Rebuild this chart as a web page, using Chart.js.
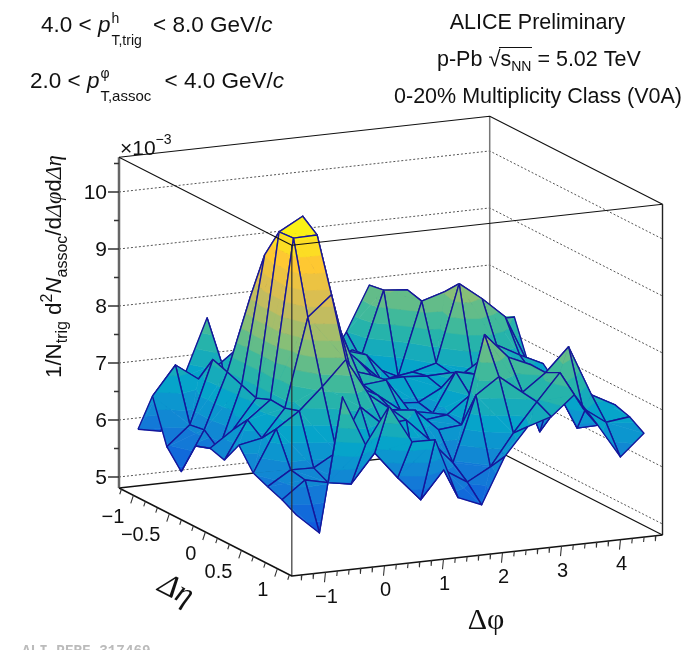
<!DOCTYPE html>
<html>
<head>
<meta charset="utf-8">
<title>ALICE Preliminary</title>
<script src="https://cdn.jsdelivr.net/npm/chart.js@4"></script>
<style>
    body { margin: 0; background: #fff; }
    canvas { display: block; }
</style>
</head>
<body>
<canvas id="surfaceChart" width="693" height="650"></canvas>
<script>
// Bin centres of the surface
const etaBins = [-1.1, -0.9, -0.7, -0.5, -0.3, -0.1, 0.1, 0.3, 0.5, 0.7, 0.9, 1.1];
const phiBins = [-1.37, -0.98, -0.59, -0.2, 0.2, 0.59, 0.98, 1.37, 1.77, 2.16, 2.55, 2.95, 3.34, 3.73, 4.12, 4.52];

// Yield x 10^3, one list per eta bin
const zEta0 = [5.88, 5.80, 6.72, 7.70, 6.21, 6.17, 6.30, 6.43, 6.56, 7.18, 7.96, 7.13, 7.09, 6.86, 6.65, 6.42];
const zEta1 = [6.59, 7.09, 6.80, 7.05, 7.36, 7.00, 6.78, 6.73, 6.78, 6.85, 8.00, 7.96, 7.21, 7.34, 7.12, 6.90];
const zEta2 = [5.83, 6.17, 7.27, 5.94, 7.00, 7.65, 7.26, 6.95, 7.17, 6.81, 6.61, 7.89, 8.01, 7.82, 7.43, 7.43];
const zEta3 = [5.52, 6.21, 7.18, 8.45, 8.71, 8.31, 7.74, 7.34, 7.21, 6.76, 6.82, 6.93, 8.28, 7.97, 7.61, 6.72];
const zEta4 = [6.10, 5.99, 7.08, 9.32, 9.36, 8.79, 7.69, 7.30, 6.90, 6.91, 6.88, 6.89, 6.81, 7.29, 7.07, 6.87];
const zEta5 = [6.19, 6.47, 6.98, 9.85, 10.08, 8.04, 7.29, 7.16, 6.62, 6.59, 6.80, 7.03, 7.29, 7.07, 6.85, 6.63];
const zEta6 = [6.11, 6.77, 7.08, 9.87, 9.88, 8.17, 7.16, 7.20, 6.61, 6.53, 7.21, 7.11, 7.15, 7.02, 6.80, 6.49];
const zEta7 = [6.50, 6.58, 7.06, 8.61, 8.96, 7.33, 7.11, 6.80, 6.58, 6.63, 6.93, 7.68, 7.19, 6.15, 6.66, 6.48];
const zEta8 = [6.14, 6.87, 7.14, 7.52, 7.95, 7.29, 6.98, 6.93, 6.54, 6.58, 8.12, 7.68, 7.50, 7.10, 6.30, 6.31];
const zEta9 = [6.03, 6.28, 6.27, 6.50, 7.25, 6.89, 6.93, 6.54, 6.09, 7.23, 7.51, 7.19, 7.49, 7.90, 7.01, 6.79];
const zEta10 = [5.93, 6.23, 6.14, 6.07, 6.57, 6.09, 5.66, 6.14, 5.88, 6.10, 6.65, 7.15, 7.62, 6.95, 6.66, 6.71];
const zEta11 = [5.79, 5.43, 7.77, 6.89, 7.52, 6.85, 6.84, 5.78, 5.61, 6.41, 6.89, 7.02, 7.36, 6.79, 6.18, 6.55];
const zRows = [zEta0, zEta1, zEta2, zEta3, zEta4, zEta5, zEta6, zEta7, zEta8, zEta9, zEta10, zEta11];

// Axis ticks
const zMajorTicks = [5, 6, 7, 8, 9, 10];
const zMinorTicks = [5.5, 6.5, 7.5, 8.5, 9.5, 10.5];
const phiMajorTicks = [-1, 0, 1, 2, 3, 4];
const phiTickLabels = ['\u22121', '0', '1', '2', '3', '4'];
const etaMajorTicks = [-1, -0.5, 0, 0.5, 1];
const etaTickLabels = ['\u22121', '\u22120.5', '0', '0.5', '1'];

// Box limits
const PHI_MIN = -Math.PI / 2, PHI_MAX = 3 * Math.PI / 2;
const ETA_MIN = -1.2, ETA_MAX = 1.2;
const Z_MIN = 4.807, Z_MAX = 10.61;

// Parallel projection of the box on to the page
function project(phi, eta, z) {
    const p = phi - PHI_MIN, e = eta - ETA_MIN;
    return {
        x: 119 + e * 72 + p * 59,
        y: 488 + e * 36.67 - p * 6.53 - (z - Z_MIN) * 57,
        z: z
    };
}

// ROOT "bird" palette
const birdStops = [0, 0.125, 0.25, 0.375, 0.5, 0.625, 0.75, 0.875, 1];
const birdRed = [0.2082, 0.0592, 0.0780, 0.0232, 0.1802, 0.5301, 0.8186, 0.9956, 0.9764];
const birdGreen = [0.1664, 0.3599, 0.5041, 0.6419, 0.7178, 0.7492, 0.7328, 0.7862, 0.9832];
const birdBlue = [0.5293, 0.8684, 0.8385, 0.7914, 0.6425, 0.4662, 0.3499, 0.1968, 0.0539];
const BAND_MIN = 4.8, BAND_MAX = 10.1, BAND_COUNT = 20;

function birdColor(t) {
    let i = 0;
    while (i < birdStops.length - 2 && t > birdStops[i + 1]) i++;
    const f = (t - birdStops[i]) / (birdStops[i + 1] - birdStops[i]);
    const mix = a => Math.round((a[i] + (a[i + 1] - a[i]) * f) * 255);
    return `rgb(${mix(birdRed)},${mix(birdGreen)},${mix(birdBlue)})`;
}

// Keep the part of a polygon on one side of a z level
function clipZ(poly, level, sign) {
    const out = [];
    poly.forEach((a, i) => {
        const b = poly[(i + 1) % poly.length];
        const da = sign * (a.z - level), db = sign * (b.z - level);
        if (da >= 0) out.push(a);
        if ((da >= 0) !== (db >= 0)) {
            const f = da / (da - db);
            out.push({ x: a.x + (b.x - a.x) * f, y: a.y + (b.y - a.y) * f, z: level });
        }
    });
    return out;
}

// Split a cell along the diagonal that stays inside it
function cellTriangles(q) {
    const side = (a, b, p) => (b.x - a.x) * (p.y - a.y) - (b.y - a.y) * (p.x - a.x);
    if (side(q[0], q[2], q[1]) * side(q[0], q[2], q[3]) < 0) {
        return [[q[0], q[1], q[2]], [q[0], q[2], q[3]]];
    }
    return [[q[1], q[2], q[3]], [q[1], q[3], q[0]]];
}

function lineSet(points, color, width, dash) {
    return {
        data: points,
        showLine: true,
        pointRadius: 0,
        borderColor: color,
        borderWidth: width,
        borderDash: dash || [],
        borderJoinStyle: 'round'
    };
}

// Several separate strokes in one dataset
function strokes(list) {
    const pts = [];
    list.forEach(s => { pts.push(...s, { x: NaN, y: NaN }); });
    return pts;
}

const corner = {
    left: z => project(PHI_MIN, ETA_MIN, z),
    back: z => project(PHI_MAX, ETA_MIN, z),
    right: z => project(PHI_MAX, ETA_MAX, z),
    front: z => project(PHI_MIN, ETA_MAX, z)
};

// Everything is listed back to front here
const layers = [];

// Back walls
layers.push(lineSet(strokes(zMajorTicks.map(z => [corner.left(z), corner.back(z), corner.right(z)])), '#555', 1, [2, 2]));
layers.push(lineSet([corner.back(Z_MIN), corner.back(Z_MAX)], '#777', 1.5));
layers.push(lineSet([corner.left(Z_MIN), corner.back(Z_MIN), corner.right(Z_MIN)], '#111', 1.3));
layers.push(lineSet([corner.left(Z_MAX), corner.back(Z_MAX), corner.right(Z_MAX)], '#111', 1.1));

// Surface cells, from the far corner to the near one
for (let r = 0; r < etaBins.length - 1; r++) {
    for (let c = phiBins.length - 2; c >= 0; c--) {
        const a = project(phiBins[c], etaBins[r], zRows[r][c]);
        const b = project(phiBins[c + 1], etaBins[r], zRows[r][c + 1]);
        const d = project(phiBins[c + 1], etaBins[r + 1], zRows[r + 1][c + 1]);
        const e = project(phiBins[c], etaBins[r + 1], zRows[r + 1][c]);
        const cell = lineSet([a, b, d, e, a], '#15159a', 1.4);
        cell.isCell = true;
        layers.push(cell);
    }
}

// Z axis and its ticks
layers.push(lineSet([corner.left(Z_MIN), corner.left(Z_MAX)], '#666', 2.5));
const zTickLines = [
    ...zMajorTicks.map(z => {
        const p = corner.left(z);
        return [{ x: p.x - 11, y: p.y }, p];
    }),
    ...zMinorTicks.map(z => {
        const p = corner.left(z);
        return [{ x: p.x - 5, y: p.y }, p];
    })
];
layers.push(lineSet(strokes(zTickLines), '#333', 1.3));

// Front edges of the box
layers.push(lineSet([corner.front(Z_MIN), corner.front(Z_MAX)], 'rgba(40,40,40,0.8)', 1.4));
layers.push(lineSet([corner.right(Z_MIN), corner.right(Z_MAX)], '#222', 1.4));
layers.push(lineSet([corner.left(Z_MAX), corner.front(Z_MAX), corner.right(Z_MAX)], '#111', 1.1));
layers.push(lineSet([corner.left(Z_MIN), corner.front(Z_MIN), corner.right(Z_MIN)], '#111', 1.5));

// Phi axis ticks
const phiTicks = [];
for (let i = -7; i <= 23; i++) {
    const phi = i / 5;
    const p = project(phi, ETA_MAX, Z_MIN);
    const len = i % 5 === 0 ? 10 : 5;
    phiTicks.push([p, { x: p.x - len * 0.1, y: p.y + len }]);
}
// Eta axis ticks
const etaTicks = [];
for (let i = -7; i <= 7; i++) {
    const eta = i / 6;
    const p = project(PHI_MIN, eta, Z_MIN);
    const len = i % 3 === 0 ? 8 : 5;
    etaTicks.push([p, { x: p.x - len * 0.33, y: p.y + len }]);
}
layers.push(lineSet(strokes(phiTicks), '#333', 1.1));
layers.push(lineSet(strokes(etaTicks), '#333', 1.1));

// Chart.js paints the first dataset last
const datasets = layers.slice().reverse();

// Fills one cell in z bands right before its outline is stroked
const surfaceFill = {
    id: 'surfaceFill',
    beforeDatasetDraw(chart, args) {
        const ds = chart.data.datasets[args.index];
        if (!ds.isCell) return;
        const ctx = chart.ctx;
        const sx = chart.scales.x, sy = chart.scales.y;
        const step = (BAND_MAX - BAND_MIN) / BAND_COUNT;
        ctx.save();
        ctx.lineWidth = 0.6;
        cellTriangles(ds.data.slice(0, 4)).forEach(tri => {
            for (let k = 0; k < BAND_COUNT; k++) {
                const lo = BAND_MIN + k * step;
                const poly = clipZ(clipZ(tri, lo, 1), lo + step, -1);
                if (poly.length < 3) continue;
                ctx.beginPath();
                poly.forEach((p, i) => {
                    const px = sx.getPixelForValue(p.x), py = sy.getPixelForValue(p.y);
                    if (i === 0) ctx.moveTo(px, py); else ctx.lineTo(px, py);
                });
                ctx.closePath();
                ctx.fillStyle = ctx.strokeStyle = birdColor((k + 0.5) / BAND_COUNT);
                ctx.fill();
                ctx.stroke();
            }
        });
        ctx.restore();
    }
};

const SANS = '"Liberation Sans", Arial, sans-serif';
const SERIF = '"Liberation Serif", serif';
const font = (size, style) => `${style || ''} ${size}px ${SANS}`;

// Writes pieces of text one after the other, optional shift up or down, optional no advance
function runs(ctx, x, y, angle, list) {
    ctx.save();
    ctx.translate(x, y);
    ctx.rotate(angle);
    ctx.textAlign = 'left';
    ctx.textBaseline = 'alphabetic';
    let pos = 0;
    list.forEach(r => {
        ctx.font = r.font;
        ctx.fillText(r.text, pos + (r.dx || 0), r.dy || 0);
        if (!r.stay) pos += ctx.measureText(r.text).width + (r.dx || 0);
    });
    ctx.restore();
}

const textLayer = {
    id: 'textLayer',
    afterDraw(chart) {
        const ctx = chart.ctx;
        ctx.save();
        ctx.fillStyle = '#111';

        // Z tick labels
        ctx.font = font(21);
        ctx.textAlign = 'right';
        ctx.textBaseline = 'middle';
        zMajorTicks.forEach(z => {
            const p = corner.left(z);
            ctx.fillText(String(z), 107, p.y + 1);
        });

        // Phi tick labels
        ctx.font = font(20);
        ctx.textAlign = 'center';
        phiMajorTicks.forEach((phi, i) => {
            const p = project(phi, ETA_MAX, Z_MIN);
            ctx.fillText(phiTickLabels[i], p.x + 1, p.y + 25);
        });

        // Eta tick labels
        ctx.textAlign = 'right';
        etaMajorTicks.forEach((eta, i) => {
            const p = project(PHI_MIN, eta, Z_MIN);
            ctx.fillText(etaTickLabels[i], p.x - 9, p.y + 22);
        });

        // Axis titles
        ctx.textAlign = 'center';
        ctx.textBaseline = 'alphabetic';
        ctx.font = `30px ${SERIF}`;
        ctx.fillText('\u0394\u03C6', 486, 629);
        ctx.save();
        ctx.translate(172, 598);
        ctx.rotate(27 * Math.PI / 180);
        ctx.font = `italic 32px ${SERIF}`;
        ctx.fillText('\u0394\u03B7', 0, 0);
        ctx.restore();

        const f22 = font(22.3), i22 = font(22.3, 'italic'), s16 = font(16);
        runs(ctx, 61, 378, -Math.PI / 2, [
            { text: '1/N', font: f22 },
            { text: 'trig', font: s16, dy: 6 },
            { text: ' d', font: f22 },
            { text: '2', font: s16, dy: -9 },
            { text: 'N', font: i22 },
            { text: 'assoc', font: s16, dy: 6 },
            { text: '/d', font: f22 },
            { text: '\u0394\u03C6', font: `italic 22.3px ${SERIF}` },
            { text: 'd', font: f22 },
            { text: '\u0394\u03B7', font: `italic 22.3px ${SERIF}` }
        ]);
        runs(ctx, 120, 155, 0, [
            { text: '\u00D710', font: font(21) },
            { text: '\u22123', font: font(14), dy: -11 }
        ]);

        // Kinematic selections
        const f = font(21.5), big = font(22.5), bigI = font(22.5, 'italic'), sm = font(14);
        runs(ctx, 41, 32, 0, [
            { text: '4.0 < ', font: big },
            { text: 'p', font: bigI },
            { text: 'h', font: sm, dy: -9, dx: 1, stay: true },
            { text: 'T,trig', font: sm, dy: 13, dx: 1 },
            { text: ' < 8.0 GeV/', font: big, dx: 5 },
            { text: 'c', font: bigI }
        ]);
        runs(ctx, 30, 88, 0, [
            { text: '2.0 < ', font: big },
            { text: 'p', font: bigI },
            { text: '\u03C6', font: sm, dy: -10, dx: 1, stay: true },
            { text: 'T,assoc', font: font(15), dy: 13, dx: 1 },
            { text: ' < 4.0 GeV/', font: big, dx: 7 },
            { text: 'c', font: bigI }
        ]);

        // Collision system
        ctx.font = f;
        ctx.textAlign = 'center';
        ctx.fillText('ALICE Preliminary', 537.5, 29);
        ctx.fillText('0-20% Multiplicity Class (V0A)', 538, 103);
        runs(ctx, 437, 66, 0, [
            { text: 'p-Pb ', font: f },
            { text: '\u221A', font: font(22) },
            { text: 's', font: f },
            { text: 'NN', font: sm, dy: 5 },
            { text: ' = 5.02 TeV', font: f }
        ]);
        // Bar over the root
        ctx.strokeStyle = '#111';
        ctx.lineWidth = 1;
        ctx.beginPath();
        ctx.moveTo(499, 47.5);
        ctx.lineTo(532, 47.5);
        ctx.stroke();

        // Plot id, cut by the page edge
        ctx.fillStyle = '#bbb';
        ctx.textAlign = 'left';
        ctx.font = 'bold 14.3px "Liberation Mono", monospace';
        ctx.fillText('ALI-PERF-317469', 22, 654.5);
        ctx.restore();
    }
};

new Chart(document.getElementById('surfaceChart'), {
    type: 'scatter',
    data: { datasets: datasets },
    options: {
        responsive: false,
        animation: false,
        events: [],
        layout: { padding: 0 },
        elements: { line: { tension: 0 } },
        plugins: { legend: { display: false }, tooltip: { enabled: false } },
        scales: {
            x: { type: 'linear', display: false, min: 0, max: 693 },
            y: { type: 'linear', display: false, min: 0, max: 650, reverse: true }
        }
    },
    plugins: [surfaceFill, textLayer]
});
</script>
</body>
</html>
